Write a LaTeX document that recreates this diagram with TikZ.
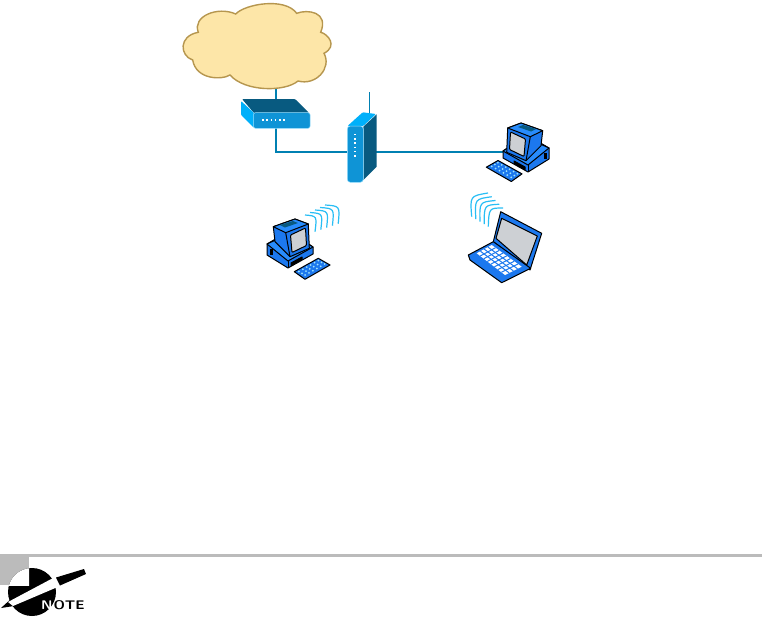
\documentclass[tikz,border=0pt]{standalone}
\usepackage{xcolor}
\usepackage{tikz}
\usetikzlibrary{arrows.meta,positioning,calc}
\definecolor{wblink}{RGB}{0,128,178}
\definecolor{wbfront}{RGB}{15,148,214}
\definecolor{wbdark}{RGB}{8,90,128}
\definecolor{wbbright}{RGB}{0,176,250}
\definecolor{wbcloud}{RGB}{253,230,168}
\definecolor{wbedge}{RGB}{182,150,78}
\definecolor{wbpc}{RGB}{28,120,238}
\definecolor{wbpclight}{RGB}{40,140,252}
\definecolor{wbscreen}{RGB}{205,208,212}
\definecolor{wbwave}{RGB}{40,190,245}
\definecolor{wbnote}{RGB}{187,187,187}
\newcommand{\pcicon}{%
  % base
  \draw[pcline,fill=wbpc] (0,23) -- (22,10) -- (46,26) -- (46,33) -- (21,47) -- (0,34) -- cycle;
  \draw[pcline,fill=wbpclight] (0,23) -- (21,40) -- (46,26) -- (24,12) -- cycle;
  \draw[pcline] (21,40) -- (21,47);
  \fill[black] (2.5,28) rectangle (5.5,34);
  \draw[pcline,fill=black] (24,42) -- (35,36) -- (35,38.5) -- (24,44.5) -- cycle;
  % monitor
  \draw[pcline,fill=wbpc] (6.3,5.7) -- (28,-2) -- (41.3,3) -- (42.3,27.3) -- (23,35.7) -- (8,20.7) -- cycle;
  \draw[pcline,fill=wbpclight] (6.3,5.7) -- (28,-2) -- (41.3,3) -- (18.7,11.7) -- cycle;
  \draw[pcline] (18.7,11.7) -- (23,35.7);
  \draw[pcline,fill=wbscreen,rounded corners=1pt] (23.5,14) -- (38.5,7) -- (39.5,24.5) -- (25,31.5) -- cycle;
  \fill[wbdark] (13,4) -- (26,0) -- (31,2) -- (18,6.5) -- cycle;
}
\newcommand{\keysicon}{%
  \draw[pcline,fill=wbpc] (0,13.4) -- (24,0) -- (35.7,6.7) -- (10.7,21) -- cycle;
  \foreach \i in {0,...,5}
    \foreach \j in {0,1,2}
      \fill[wbwave!45!white] ($(4.6,13.2)+(\i*3.9,-\i*2.2)+(\j*3.1,\j*1.8)$) circle (1);
}
\begin{document}
\begin{tikzpicture}[
  x=1pt, y=-1pt,
  font=\sffamily,
  pcline/.style={line width=1pt, black, line join=round},
  conn/.style={wblink, line width=1.4pt},
  wavearc/.style={wbwave, line width=1.2pt},
  ledot/.style={white, line width=1.5pt, dash pattern=on 1.5pt off 2.75pt},
  notetext/.style={font=\fontsize{12.5}{12.5}\sffamily\bfseries, inner sep=0pt},
]
\useasboundingbox (0,0) rectangle (762,621);
\fill[white] (0,0) rectangle (762,621);
\coordinate (cloudbot) at (276,87);
\coordinate (modemtop) at (276,100);
\coordinate (modembot) at (276,128);
\coordinate (apwest) at (347,152);
\coordinate (apeast) at (376,152);
\coordinate (pcwest) at (503,152);
\coordinate (apant) at (369,92);
\coordinate (aptop) at (369,114);
\draw[conn] (cloudbot) -- (modemtop);
\draw[conn] (modembot) |- (apwest);
\draw[conn] (apeast) -- (pcwest);
\draw[wblink, line width=0.7pt] (apant) -- (aptop);
% cloud
\draw[wbedge, fill=wbcloud, line width=1.4pt] (235.7,14)
  .. controls (245,4) and (285,-3) .. (296.7,13.3)
  .. controls (308,9) and (329,12) .. (320.7,32.3)
  .. controls (328,34) and (338,46) .. (324,53.3)
  .. controls (332,68) and (316,86) .. (298,81)
  .. controls (285,92) and (245,92) .. (230,75)
  .. controls (222,80) and (196,80) .. (192.7,60)
  .. controls (180,56) and (178,36) .. (198.3,32.3)
  .. controls (192,16) and (218,6) .. (235.7,14) -- cycle;
% modem
\fill[wbdark, rounded corners=1pt] (242,99) -- (295,99) -- (309,113) -- (254,113) -- cycle;
\fill[wbbright, rounded corners=1pt] (241,101) -- (254,113) -- (254,128) -- (241,115) -- cycle;
\draw[white!60!wbbright, fill=wbfront, rounded corners=2pt, line width=0.5pt] (253.5,112.7) rectangle (310,128.3);
\draw[ledot] (262,120.2) -- (286,120.2);
% access point
\fill[wbbright, rounded corners=1pt] (347.5,126) -- (362.7,112.3) -- (376,114) -- (363.3,126) -- cycle;
\fill[wbdark] (363.3,126.7) -- (376.7,114.3) -- (376.7,166.7) -- (363.3,180) -- cycle;
\draw[white!60!wbbright, fill=wbfront, rounded corners=3pt, line width=0.5pt] (347.3,126) rectangle (363.3,182.3);
\draw[ledot] (354.8,133.8) -- (354.8,157);
% desktop with wifi
\begin{scope}[shift={(267,221)}]
  \pcicon
\end{scope}
\begin{scope}[shift={(294.3,258.3)}]
  \keysicon
\end{scope}
\foreach \i in {0,...,4}
  \draw[wavearc] ({305+5*\i},{215-2.5*\i}) .. controls ({317+5.75*\i},{216-2.5*\i}) .. ({315+5.8*\i},{231.7-2*\i});
% wired desktop
\begin{scope}[shift={(549,125)},xscale=-1]
  \pcicon
\end{scope}
\begin{scope}[shift={(522,160.5)},xscale=-1]
  \keysicon
\end{scope}
% laptop
\draw[pcline,fill=wbpc] (500.7,211.7) -- (541.7,233.3) -- (530,270) -- (493.3,241.7) -- cycle;
\draw[pcline,fill=wbscreen] (501.7,218.3) -- (537.3,236) -- (526.7,265) -- (496,238.3) -- cycle;
\draw[pcline,fill=wbpc] (468.3,255) -- (493.3,241.7) -- (530.7,268.3) -- (501.7,282.7) -- (470,260) -- cycle;
\fill[white] (476.7,253.3) -- (491.7,245) -- (521.7,266.7) -- (505,275) -- cycle;
\foreach \t in {1,...,7}
  \draw[wbpc,line width=1pt] ($(476.7,253.3)!{\t/8}!(505,275)$) -- ($(491.7,245)!{\t/8}!(521.7,266.7)$);
\foreach \t in {1,2,3}
  \draw[wbpc,line width=1pt] ($(476.7,253.3)!{\t/4}!(491.7,245)$) -- ($(505,275)!{\t/4}!(521.7,266.7)$);
\foreach \i in {0,...,4}
  \draw[wavearc] ({488.3-4.15*\i},{226.7-2.5*\i}) .. controls ({489-4.75*\i},{208-3*\i}) .. ({503-3.75*\i},{208-3.75*\i});
% note
\fill[wbnote] (0,553.5) rectangle (762,557);
\fill[wbnote] (0,557) rectangle (29,585);
\fill[black] (32,592) circle (24);
\begin{scope}
  \clip (0,557) rectangle (29,585);
  \fill[white] (32,592) circle (24);
\end{scope}
\fill[black] (1,608) -- (12,598) -- (14,606) -- cycle;
\fill[white] (8,602) -- (55,577) -- (60,586) -- (13,606) -- cycle;
\fill[black] (56,577.5) -- (84,569) -- (86,574) -- (60,585.5) -- cycle;
\node[notetext, anchor=west, text=white] (notea) at (41,605) {\scalebox{1.15}[1]{N}};
\node[notetext, right=0.5pt of notea] (noteb) {\scalebox{1.15}[1]{OTE}};
\end{tikzpicture}
\end{document}
